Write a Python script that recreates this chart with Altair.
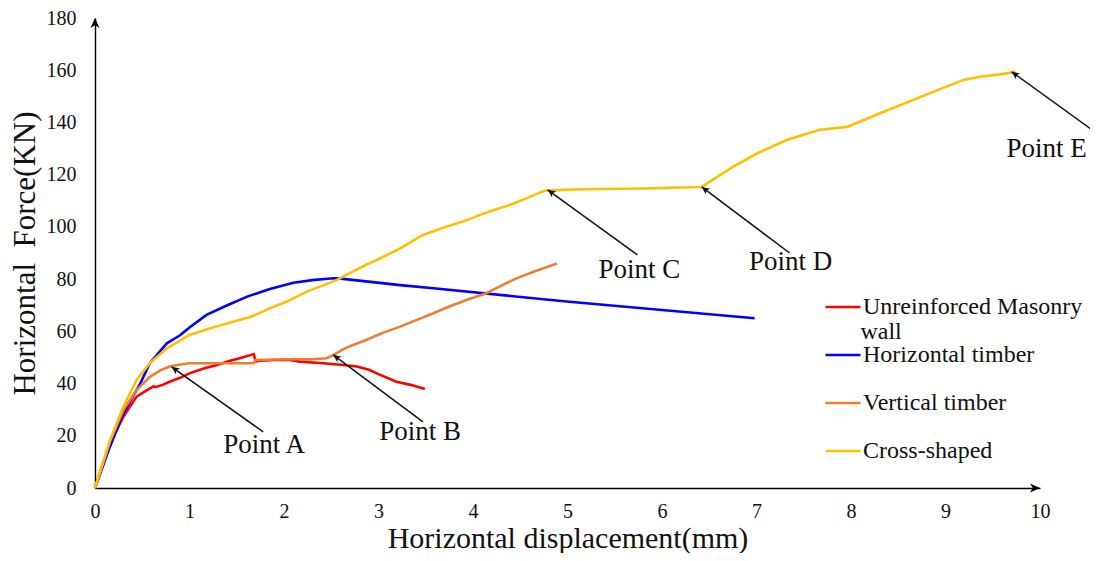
import math
import altair as alt
import pandas as pd

# ---------------- data ----------------
series_names = ["Unreinforced Masonry wall", "Horizontal timber", "Vertical timber", "Cross-shaped"]
series_colors = ["#FF0000", "#0000FF", "#ED7D31", "#FFC000"]

red_x = [0, 0.16, 0.30, 0.44, 0.55, 0.62, 0.65, 0.72, 0.79, 0.90, 1.0, 1.15, 1.29, 1.42, 1.53, 1.62, 1.68, 1.70,
         1.75, 1.9, 2.06, 2.17, 2.38, 2.6, 2.77, 2.9, 3.0, 3.19, 3.35, 3.49]
red_y = [0, 17.1, 27.3, 35, 37.5, 38.9, 38.7, 39.6, 40.7, 42.2, 43.9, 45.8, 47.1, 48.6, 49.7, 50.6, 51.3, 48.4,
         48.8, 49, 49, 48.4, 47.9, 47.2, 46.5, 45.3, 43.6, 40.7, 39.4, 37.9]

blue_x = [0, 0.15, 0.30, 0.48, 0.58, 0.76, 0.90, 1.0, 1.18, 1.4, 1.61, 1.85, 2.10, 2.3, 2.52, 2.6, 3.23, 3.58, 4.99, 6.98]
blue_y = [0, 15, 28.6, 40.1, 47.8, 55.4, 58.5, 61.5, 66.3, 70, 73.3, 76.2, 78.6, 79.6, 80.3, 80.2, 77.7, 76.5, 71.4, 65]

orange_x = [0, 0.16, 0.30, 0.44, 0.58, 0.70, 0.79, 0.9, 1.0, 1.3, 1.68, 1.70, 2.06, 2.3, 2.45, 2.52, 2.62, 2.73,
            2.87, 3.05, 3.23, 3.4, 3.58, 3.75, 3.93, 4.14, 4.3, 4.46, 4.64, 4.89]
orange_y = [0, 18, 29.8, 37.5, 42.6, 45.2, 46.5, 47.3, 47.8, 47.8, 47.8, 49, 49.3, 49.3, 49.7, 50.9, 53, 54.8,
            56.7, 59.5, 61.8, 64.3, 66.9, 69.5, 72, 74.6, 77.5, 80.3, 82.8, 86]

yellow_x = [0, 0.16, 0.30, 0.44, 0.58, 0.76, 1.0, 1.22, 1.46, 1.65, 1.85, 2.03, 2.24, 2.4, 2.56, 2.87, 3.02, 3.23,
            3.47, 3.72, 3.93, 4.07, 4.18, 4.39, 4.57, 4.76, 5.13, 5.8, 6.42, 6.75, 7.0, 7.32, 7.67, 7.96, 8.06,
            8.34, 8.87, 9.19, 9.36, 9.6, 9.74]
yellow_y = [0, 18.4, 31.1, 41.4, 47.8, 53.5, 58.6, 61.2, 63.7, 65.6, 68.8, 71.4, 75.2, 77.4, 79.7, 85.5, 88, 91.8,
            96.9, 100.1, 102.5, 104.5, 106, 108.4, 111, 113.9, 114.4, 114.7, 115.3, 123, 128, 133.3, 137.2, 138.3,
            139.8, 144, 151.7, 156.3, 157.5, 158.5, 159.4]

ann_labels = ["Point A", "Point B", "Point C", "Point D", "Point E"]
ann_tip_x = [0.81, 2.52, 4.79, 6.42, 9.70]
ann_tip_y = [46.4, 51.0, 114.2, 115.3, 159.4]
ann_end_x = [1.78, 3.47, 5.74, 7.35, 10.61]
ann_end_y = [21.5, 25.3, 89.3, 90.0, 135.6]
ann_lbl_x = [1.79, 3.44, 5.76, 7.36, 10.07]
ann_lbl_y = [16.5, 21.5, 83.5, 86.6, 129.9]

# wrapped second line of the first legend label
legend_wrap_text = ["wall"]
legend_wrap_x = [8.10]
legend_wrap_y = [59.7]

x_ticks = [0, 1, 2, 3, 4, 5, 6, 7, 8, 9, 10]
y_ticks = [0, 20, 40, 60, 80, 100, 120, 140, 160, 180]

# ---------------- layout ----------------
W, H = 945, 470
FONT = "Liberation Serif"
XMAX, YMAX = 10, 180
ARROW = "M 0 0 L -0.45 1 L 0 0.72 L 0.45 1 Z"

rows = []
for name, xs_, ys_ in zip(series_names, [red_x, blue_x, orange_x, yellow_x], [red_y, blue_y, orange_y, yellow_y]):
    for i, (xv, yv) in enumerate(zip(xs_, ys_)):
        rows.append({"series": name, "x": xv, "y": yv, "order": i})
df = pd.DataFrame(rows)

kx, ky = W / XMAX, H / YMAX
ann = pd.DataFrame({
    "label": ann_labels, "tx": ann_tip_x, "ty": ann_tip_y,
    "ex": ann_end_x, "ey": ann_end_y, "lx": ann_lbl_x, "ly": ann_lbl_y,
})
def head_angle(r):
    dx = (r.tx - r.ex) * kx
    dy = -(r.ty - r.ey) * ky
    return (math.degrees(math.atan2(dx, -dy)) + 360) % 360
ann["angle"] = ann.apply(head_angle, axis=1)

axis_ends = pd.DataFrame({"x": [0, XMAX], "y": [YMAX, 0], "angle": [0, 90]})
wrap = pd.DataFrame({"t": legend_wrap_text, "x": legend_wrap_x, "y": legend_wrap_y})

xs = alt.Scale(domain=[0, XMAX], nice=False, zero=False)
ys = alt.Scale(domain=[0, YMAX], nice=False, zero=False)

lines = alt.Chart(df).mark_line(strokeWidth=2.6, clip=False).encode(
    x=alt.X("x:Q", scale=xs, axis=alt.Axis(
        values=x_ticks, format="d", labelFlush=False, title="Horizontal displacement(mm)", grid=False, ticks=False,
        labelPadding=13, titlePadding=2, domainColor="#000", domainWidth=1.4,
        labelFont=FONT, labelFontSize=20, labelColor="#111",
        titleFont=FONT, titleFontSize=30, titleFontWeight="normal", titleColor="#111")),
    y=alt.Y("y:Q", scale=ys, axis=alt.Axis(
        values=y_ticks, format="d", labelFlush=False, title="Horizontal\u00a0 Force(KN)", grid=False, ticks=False,
        labelPadding=19, titlePadding=5, domainColor="#000", domainWidth=1.4,
        labelFont=FONT, labelFontSize=20, labelColor="#111",
        titleFont=FONT, titleFontSize=31, titleFontWeight="normal", titleColor="#111")),
    color=alt.Color("series:N", sort=series_names,
                    scale=alt.Scale(domain=series_names, range=series_colors),
                    legend=alt.Legend(
                        title=None, orient="none", legendX=729, legendY=277,
                        symbolType="stroke", symbolSize=1225, symbolStrokeWidth=2.5,
                        labelFont=FONT, labelFontSize=24, labelColor="#111", labelOffset=1,
                        labelLimit=400, rowPadding=24, clipHeight=24,
                        labelExpr="datum.label == 'Unreinforced Masonry wall' ? 'Unreinforced Masonry' : datum.label")),
    order="order:Q",
)

wrap_text = alt.Chart(wrap).mark_text(font=FONT, fontSize=24, color="#111", align="left",
                                      baseline="middle", clip=False).encode(
    x=alt.X("x:Q", scale=xs), y=alt.Y("y:Q", scale=ys), text="t:N")

ann_lines = alt.Chart(ann).mark_rule(color="#111", strokeWidth=1.5, clip=False).encode(
    x=alt.X("ex:Q", scale=xs), y=alt.Y("ey:Q", scale=ys), x2="tx:Q", y2="ty:Q")

ann_heads = alt.Chart(ann).mark_point(shape=ARROW, filled=True, color="#111", size=256, opacity=1,
                                      strokeWidth=0, clip=False).encode(
    x=alt.X("tx:Q", scale=xs), y=alt.Y("ty:Q", scale=ys), angle=alt.Angle("angle:Q", scale=None))

ann_text = alt.Chart(ann).mark_text(font=FONT, fontSize=27, color="#111", align="center",
                                    baseline="middle", clip=False).encode(
    x=alt.X("lx:Q", scale=xs), y=alt.Y("ly:Q", scale=ys), text="label:N")

axis_heads = alt.Chart(axis_ends).mark_point(shape=ARROW, filled=True, color="#000", size=400, opacity=1,
                                             strokeWidth=0, clip=False).encode(
    x=alt.X("x:Q", scale=xs), y=alt.Y("y:Q", scale=ys), angle=alt.Angle("angle:Q", scale=None))

chart = alt.layer(lines, wrap_text, ann_lines, ann_heads, ann_text, axis_heads).properties(
    width=W, height=H,
    background="white",
    autosize=alt.AutoSizeParams(type="none"),
    padding={"left": 87, "top": 10, "right": 50, "bottom": 65},
).configure_view(strokeWidth=0, stroke="transparent")

chart.save("out.html", embed_options={"renderer": "svg", "actions": False})
